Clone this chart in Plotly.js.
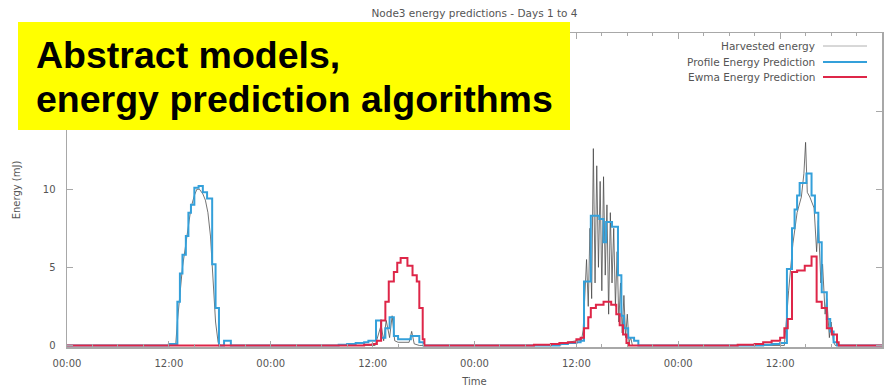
<!DOCTYPE html>
<html>
<head>
<meta charset="utf-8">
<script src="https://cdn.plot.ly/plotly-3.0.1.min.js"></script>
<style>html,body{margin:0;padding:0;background:#fff;}#chart{width:896px;height:389px;}</style>
</head>
<body>
<div id="chart"></div>
<script>
// ---- data (hours since start, energy in mJ) ----
const tickHours = [0, 12, 24, 36, 48, 60, 72, 84, 96];
const tickLabels = ["00:00", "12:00", "00:00", "12:00", "00:00", "12:00", "00:00", "12:00", "00:00"];
const yTickVals = [0, 5, 10, 15, 20];
const yTickLabels = ["0", "5", "10", "", ""]; // 15 and 20 are hidden behind the heading box

const harvestedT = [0, 12.8, 13.0, 13.3, 13.6, 14.0, 14.3, 14.6, 15.0, 15.3, 15.6, 16.0, 16.3, 16.6, 16.9, 17.2, 17.5, 17.8, 18.1,
  36.3, 36.6, 37.0, 37.3, 37.6, 38.0, 38.3, 38.6, 39.0, 40.3, 40.6, 40.9, 41.5,
  58.0, 59.0, 60.0, 60.6, 60.8, 61.0, 61.2, 61.4, 61.6, 61.8, 62.0, 62.2, 62.4, 62.6, 62.8, 63.0, 63.2, 63.4, 63.6, 63.8, 64.0, 64.2, 64.4, 64.6, 64.8, 65.0, 65.2, 65.4, 65.6, 65.8, 66.0, 66.2, 66.4, 66.6,
  84.5, 84.8, 85.0, 85.5, 86.0, 86.5, 86.8, 87.0, 87.2, 87.5, 88.0, 88.3, 88.5, 88.8, 89.0, 89.3, 89.5, 89.8, 90.0, 90.3, 90.5, 96];
const harvestedE = [0, 0, 1.5, 3.5, 5.0, 6.5, 7.8, 8.8, 9.6, 10.0, 10.0, 9.7, 9.3, 8.5, 7.0, 4.5, 1.5, 0.2, 0,
  0, 0.6, 1.3, 0.3, 1.6, 0.5, 1.9, 0.3, 0.2, 0.2, 0.9, 0.1, 0,
  0, 0.2, 0.3, 0.3, 1.0, 3.0, 5.5, 2.5, 7.5, 3.0, 12.6, 4.0, 11.5, 5.0, 10.5, 3.5, 10.8, 4.5, 9.0, 2.0, 8.5, 4.0, 7.5, 2.5, 6.0, 1.5, 4.0, 0.8, 3.2, 0.5, 2.0, 0.2, 0.5, 0,
  0, 2.0, 3.5, 6.5, 8.5, 9.5, 11.0, 13.0, 9.8, 9.5, 8.8, 6.0, 8.0, 4.0, 5.2, 2.0, 3.0, 0.5, 1.5, 0.2, 0, 0];

const profileT = [0, 12.0, 13.0, 13.3, 13.6, 14.0, 14.3, 14.6, 15.0, 15.5, 16.0, 16.5, 17.1, 17.5, 17.9, 18.5, 19.3,
  32.0, 33.0, 34.0, 35.0, 35.5, 36.4, 37.0, 37.5, 38.0, 38.5, 39.0, 40.5, 41.5, 42.0,
  58.0, 59.0, 60.0, 60.5, 60.9, 61.7, 62.7, 63.2, 63.5, 64.2, 64.9, 65.3, 65.6, 66.1, 66.8, 67.3,
  82.0, 83.0, 84.0, 84.8, 85.4, 85.7, 86.0, 86.3, 87.1, 87.7, 88.1, 88.5, 88.9, 89.5, 89.9, 90.3, 90.7, 96];
const profileE = [0, 0.1, 2.8, 4.6, 5.8, 7.0, 8.5, 9.0, 10.1, 10.2, 9.8, 9.4, 5.2, 2.4, 0, 0.3, 0,
  0.05, 0.1, 0.15, 0.2, 0.3, 1.6, 0.5, 1.1, 1.8, 0.6, 0.4, 0.6, 0.2, 0,
  0.1, 0.15, 0.2, 0.3, 4.1, 8.3, 8.1, 6.6, 7.9, 7.6, 4.5, 1.9, 1.1, 0.5, 0.3, 0,
  0.05, 0.1, 0.15, 4.9, 7.5, 8.7, 9.6, 10.4, 11.0, 9.6, 8.5, 6.6, 3.4, 1.7, 0.9, 0.2, 0, 0];

const ewmaT = [0, 35.0, 36.0, 36.5, 37.0, 37.5, 37.9, 38.5, 38.9, 39.3, 40.1, 40.7, 41.2, 41.5, 41.9, 42.1,
  55.0, 57.0, 58.0, 59.0, 60.0, 60.5, 60.9, 61.4, 61.7, 62.3, 63.2, 64.1, 64.7, 65.1, 65.5, 65.9, 66.2,
  79.0, 81.0, 82.0, 83.0, 84.0, 84.5, 84.9, 85.4, 86.0, 86.9, 87.7, 88.3, 88.9, 89.5, 90.1, 90.7, 90.9, 96];
const ewmaE = [0, 0.05, 0.1, 0.3, 1.6, 2.8, 4.1, 4.7, 5.3, 5.6, 5.1, 4.5, 4.1, 2.4, 0.4, 0,
  0.05, 0.1, 0.15, 0.2, 0.4, 0.5, 1.1, 1.8, 2.4, 2.6, 2.8, 2.6, 2.0, 1.3, 0.7, 0.15, 0,
  0.05, 0.1, 0.2, 0.3, 0.5, 1.1, 1.7, 4.7, 4.8, 5.1, 5.7, 2.8, 2.4, 1.1, 0.7, 0.2, 0, 0];

const seriesNames = ["Harvested energy", "Profile Energy Prediction", "Ewma Energy Prediction"];

// ---- styling ----
const TXT = '#555555';
const FRAME = '#a8a8a8';
const BLUE = 'rgb(52,160,218)';
const RED = 'rgb(222,38,72)';
const GREY = 'rgba(70,70,70,0.75)';
const FONT = 'DejaVu Sans, sans-serif';

// plot area geometry in pixels (layout only)
const W = 896, H = 389, ML = 67, MR = 14, MT = 33, MB = 42;
const PW = W - ML - MR, PH = H - MT - MB;
const px = x => (x - ML) / PW;
const py = y => (H - MB - y) / PH;

const traces = [
  {x: harvestedT, y: harvestedE, name: seriesNames[0], type: 'scatter', mode: 'lines',
   line: {color: GREY, width: 1}},
  {x: profileT, y: profileE, name: seriesNames[1], type: 'scatter', mode: 'lines',
   line: {color: BLUE, width: 2, shape: 'hv'}},
  {x: ewmaT, y: ewmaE, name: seriesNames[2], type: 'scatter', mode: 'lines',
   line: {color: RED, width: 2, shape: 'hv'}}
];

const legendRows = [46, 62, 77];
const legendColors = ['#b0b0b0', BLUE, RED];
const annotations = [];
const shapes = [];
seriesNames.forEach((n, i) => {
  annotations.push({xref: 'paper', yref: 'paper', x: px(817), y: py(legendRows[i]), xanchor: 'right', yanchor: 'middle',
    text: n, showarrow: false, font: {family: FONT, size: 10.5, color: TXT}});
  shapes.push({type: 'line', xref: 'paper', yref: 'paper', x0: px(823), x1: px(867), y0: py(legendRows[i]), y1: py(legendRows[i]),
    line: {color: legendColors[i], width: i === 0 ? 1 : 2}, layer: 'above'});
});

// yellow overlay box with heading
shapes.push({type: 'rect', xref: 'paper', yref: 'paper', x0: px(18), x1: px(570), y0: py(130), y1: py(22),
  fillcolor: '#ffff00', line: {width: 0}, layer: 'above'});
annotations.push({xref: 'paper', yref: 'paper', x: px(34), y: py(55), xanchor: 'left', yanchor: 'middle',
  text: '<b>Abstract models,</b>', showarrow: false, font: {family: 'Liberation Sans, Arial, sans-serif', size: 37.5, color: '#000'}});
annotations.push({xref: 'paper', yref: 'paper', x: px(34), y: py(99), xanchor: 'left', yanchor: 'middle',
  text: '<b>energy prediction algorithms</b>', showarrow: false, font: {family: 'Liberation Sans, Arial, sans-serif', size: 37.5, color: '#000'}});

const layout = {
  width: W, height: H,
  margin: {l: ML, r: MR, t: MT, b: MB},
  paper_bgcolor: '#fff', plot_bgcolor: '#fff',
  showlegend: false,
  font: {family: FONT, size: 10, color: TXT},
  title: {text: 'Node3 energy predictions - Days 1 to 4', xref: 'paper', x: 0.5, y: 1 - 13 / H, yanchor: 'middle',
    font: {family: FONT, size: 10.5, color: TXT}},
  xaxis: {
    range: [0, 96], tickmode: 'array', tickvals: tickHours, ticktext: tickLabels,
    ticks: 'inside', ticklen: 6, tickcolor: FRAME, tickwidth: 1,
    showline: true, linecolor: FRAME, linewidth: 1.5, mirror: 'allticks',
    showgrid: false, zeroline: false, ticklabelstandoff: 6,
    minor: {tickmode: 'linear', tick0: 0, dtick: 3, ticks: 'inside', ticklen: 3, tickcolor: FRAME, showgrid: false},
    tickfont: {family: FONT, size: 10, color: TXT},
    title: {text: 'Time', standoff: 10, font: {family: FONT, size: 10, color: TXT}}
  },
  yaxis: {
    range: [-0.1, 20], tickmode: 'array', tickvals: yTickVals, ticktext: yTickLabels,
    ticks: 'inside', ticklen: 6, tickcolor: FRAME, tickwidth: 1,
    showline: true, linecolor: FRAME, linewidth: 1.5, mirror: 'allticks',
    showgrid: false, zeroline: false, ticklabelstandoff: 8,
    tickfont: {family: FONT, size: 10, color: TXT},
    title: {text: 'Energy (mJ)', standoff: 20, font: {family: FONT, size: 10, color: TXT}}
  },
  shapes: shapes,
  annotations: annotations
};

Plotly.newPlot('chart', traces, layout, {displayModeBar: false, staticPlot: true});
</script>
</body>
</html>
